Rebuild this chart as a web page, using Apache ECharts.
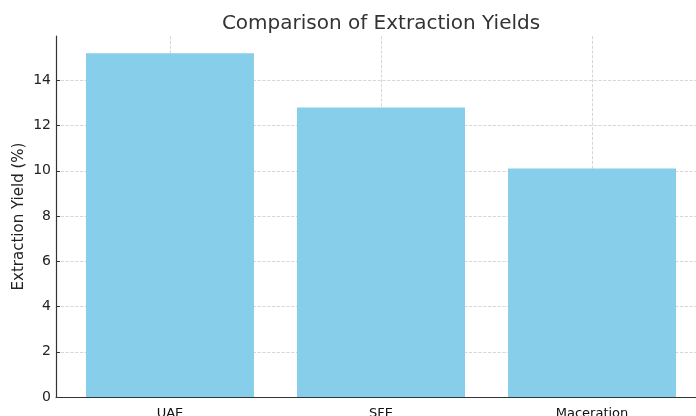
<!DOCTYPE html>
<html>
<head>
<meta charset="utf-8">
<script src="https://cdn.jsdelivr.net/npm/echarts@6/dist/echarts.min.js"></script>
<style>
  html, body { margin: 0; padding: 0; background: #fff; }
  #chart { width: 696px; height: 416px; }
</style>
</head>
<body>
<div id="chart"></div>
<script>
const categories = ['UAE', 'SFE', 'Maceration'];
const yields = [15.2, 12.8, 10.1];
const yTicks = [0, 2, 4, 6, 8, 10, 12, 14];

const chart = echarts.init(document.getElementById('chart'));
const font = 'DejaVu Sans';
const positions = categories.map((c, i) => i);

const option = {
  animation: false,
  title: {
    text: 'Comparison of Extraction Yields',
    left: 376,
    top: 9,
    textAlign: 'center',
    textStyle: { fontFamily: font, fontSize: 20, fontWeight: 'normal', color: '#333' }
  },
  grid: { left: 56, top: 36, height: 361, width: 650, containLabel: false, outerBoundsMode: 'none' },
  xAxis: {
    type: 'value',
    min: -0.54,
    max: 2.54,
    axisLine: { show: true, onZero: false, lineStyle: { color: '#333', width: 1.2 } },
    axisTick: { show: true, inside: true, length: 4, customValues: positions, lineStyle: { color: '#333' } },
    axisLabel: {
      customValues: positions,
      margin: 10,
      fontFamily: font,
      fontSize: 13,
      color: '#111',
      formatter: v => categories[Math.round(v)] || ''
    },
    splitLine: { show: true, lineStyle: { color: '#ccc', type: 'dashed', width: 0.8 } }
  },
  yAxis: {
    type: 'value',
    min: 0,
    max: 15.96,
    name: 'Extraction Yield (%)',
    nameLocation: 'middle',
    nameGap: 29,
    nameMoveOverlap: false,
    nameRotate: 90,
    nameTextStyle: { fontFamily: font, fontSize: 15, color: '#222' },
    axisLine: { show: true, onZero: false, lineStyle: { color: '#333', width: 1.2 } },
    axisTick: { show: true, inside: true, length: 4, customValues: yTicks, lineStyle: { color: '#333' } },
    axisLabel: { customValues: yTicks, margin: 5, fontFamily: font, fontSize: 14, color: '#222' },
    splitLine: { show: true, lineStyle: { color: '#ccc', type: 'dashed', width: 0.8 } }
  },
  series: [{
    type: 'bar',
    barWidth: 168,
    z: 1,
    itemStyle: { color: '#87CEEB' },
    data: yields.map((v, i) => [positions[i], v])
  }]
};
chart.setOption(option);
</script>
</body>
</html>
